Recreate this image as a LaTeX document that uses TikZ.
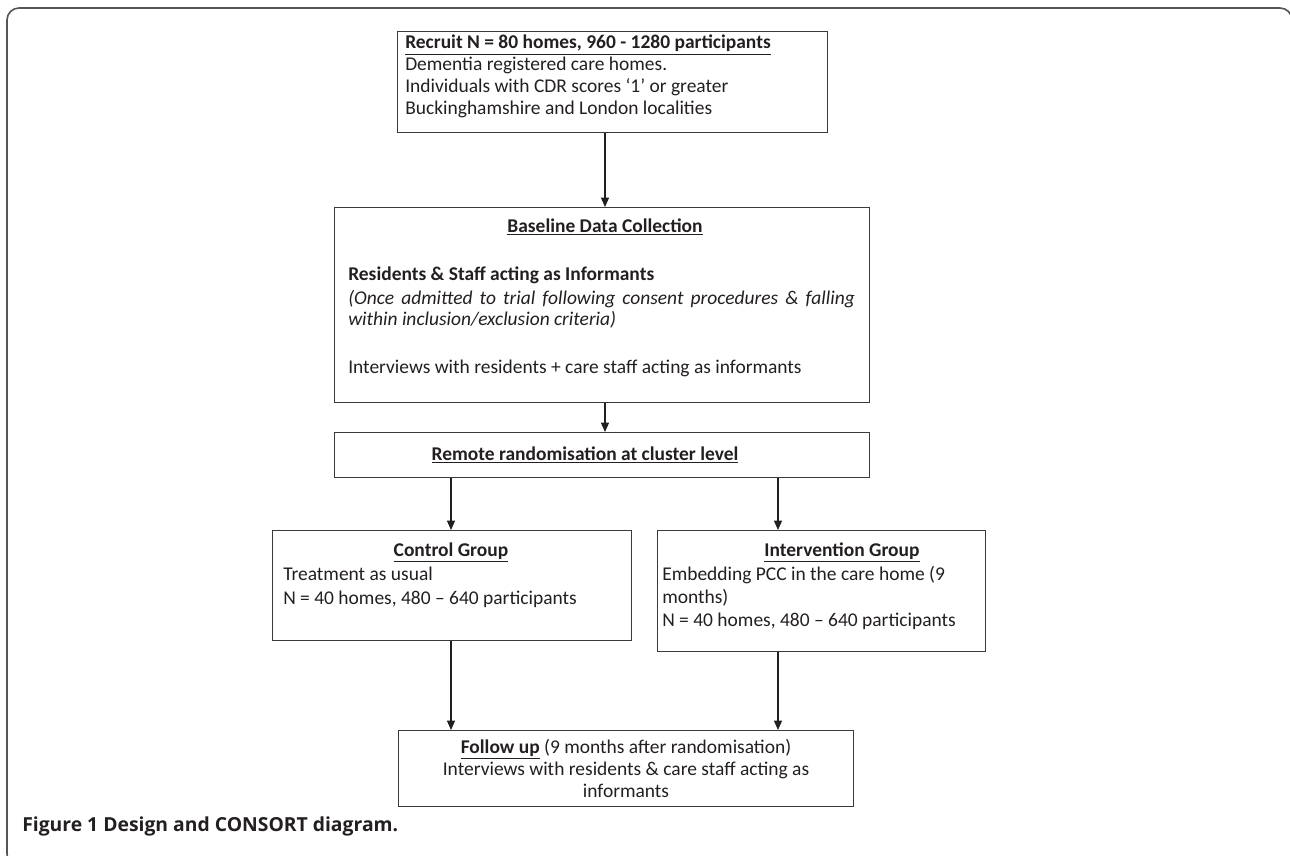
\documentclass[tikz,border=0pt]{standalone}
\usepackage{fontspec}
\setmainfont{Carlito}
\newfontfamily\capfont{Open Sans}
\usetikzlibrary{arrows.meta}
\definecolor{ink}{HTML}{231F20}
\definecolor{boxgray}{HTML}{3A3A3A}
\definecolor{framegray}{HTML}{555555}
\begin{document}
\begin{tikzpicture}[x=0.75pt,y=-0.75pt,
  box/.style={draw=boxgray, line width=1.1pt, inner sep=0pt, anchor=north west},
  txt/.style={inner sep=0pt, anchor=base west, font=\fontsize{14.6}{17}\selectfont, text=ink},
  ctxt/.style={txt, anchor=base},
  arr/.style={-{Triangle[length=7pt,width=6pt]}, line width=0.9pt, draw=ink}]
\useasboundingbox (0,0) rectangle (1290,856);
\draw[framegray, line width=1.2pt, rounded corners=9pt] (7,8) rectangle (1292,866);

% boxes
\node[box, minimum width=322.5pt, minimum height=75.75pt] (b1) at (397,31) {};
\node[box, minimum width=401.25pt, minimum height=146.25pt] (b2) at (334,207) {};
\node[box, minimum width=401.25pt, minimum height=33.75pt] (b3) at (334,432) {};
\node[box, minimum width=269.25pt, minimum height=82.5pt] (bc) at (272,530) {};
\node[box, minimum width=246pt, minimum height=90.75pt] (bi) at (657,530) {};
\node[box, minimum width=341.25pt, minimum height=57pt] (bf) at (398,730) {};

% box 1 text
\node[txt] (t1a) at (405,49) {\underline{\textbf{Recruit N = 80 homes, 960 - 1280 participants}}};
\node[txt] (t1b) at (405,71) {Dementia registered care homes.};
\node[txt] (t1c) at (405,93) {Individuals with CDR scores ‘1’ or greater};
\node[txt] (t1d) at (405,114) {Buckinghamshire and London localities};

% box 2 text
\node[ctxt] (t2a) at (605,232) {\underline{\textbf{Baseline Data Collection}}};
\node[txt] (t2b) at (348,280) {\textbf{Residents \& Staff acting as Informants}};
\node[txt] (t2c) at (348,304) {\makebox[380pt][s]{\itshape (Once admitted to trial following consent procedures \& falling}};
\node[txt] (t2d) at (348,325) {\itshape within inclusion/exclusion criteria)};
\node[txt] (t2e) at (348,373) {Interviews with residents + care staff acting as informants};

% box 3 text
\node[ctxt] (t3) at (585,460) {\underline{\textbf{Remote randomisation at cluster level}}};

% control
\node[ctxt] (tca) at (451,556) {\underline{\textbf{Control Group}}};
\node[txt] (tcb) at (283,580) {Treatment as usual};
\node[txt] (tcc) at (283,604) {N = 40 homes, 480 – 640 participants};

% intervention
\node[ctxt] (tia) at (842,556) {\underline{\textbf{Intervention Group}}};
\node[txt] (tib) at (662,580) {Embedding PCC in the care home (9};
\node[txt] (tic) at (662,603) {months)};
\node[txt] (tid) at (662,626) {N = 40 homes, 480 – 640 participants};

% follow-up
\node[ctxt] (tfa) at (626,753) {\underline{\textbf{Follow up}} (9 months after randomisation)};
\node[ctxt] (tfb) at (626,775) {Interviews with residents \& care staff acting as};
\node[ctxt] (tfc) at (626,797) {informants};

% connectors
\draw[arr] (b1.south -| 605,0) -- (b2.north -| 605,0);
\draw[arr] (b2.south -| 605,0) -- (b3.north -| 605,0);
\draw[arr] (b3.south -| 451,0) -- (bc.north -| 451,0);
\draw[arr] (b3.south -| 778,0) -- (bi.north -| 778,0);
\draw[arr] (bc.south -| 451,0) -- (bf.north -| 451,0);
\draw[arr] (bi.south -| 778,0) -- (bf.north -| 778,0);

% caption
\node[inner sep=0pt, anchor=base west, text=ink, font=\capfont\bfseries\fontsize{14.5}{16}\selectfont] (cap) at (22,831) {Figure 1 Design and CONSORT diagram.};
\end{tikzpicture}
\end{document}
